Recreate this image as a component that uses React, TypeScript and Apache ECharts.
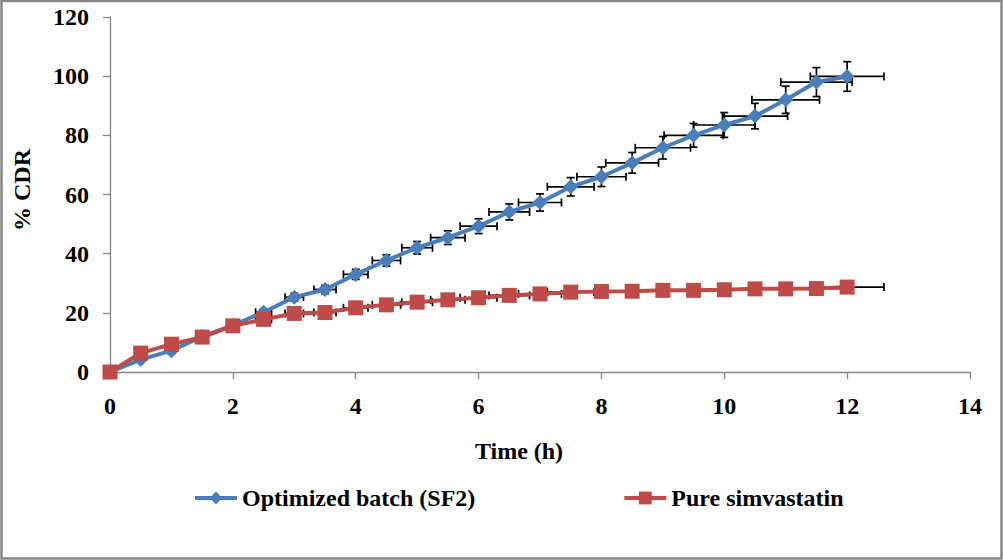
import React, { useEffect, useRef } from "react";
import * as echarts from "echarts";

const timeH = [0, 0.5, 1, 1.5, 2, 2.5, 3, 3.5, 4, 4.5, 5, 5.5, 6, 6.5, 7, 7.5, 8, 8.5, 9, 9.5, 10, 10.5, 11, 11.5, 12];
const sf2 = [0, 4.2, 7.2, 12, 15.8, 20.2, 25.3, 27.9, 33, 37.7, 42, 45.4, 49.3, 54.1, 57.3, 62.6, 66, 70.7, 75.8, 80, 83.5, 86.5, 92, 98, 99.9];
const pure = [0, 6.4, 9.4, 11.8, 15.6, 17.8, 19.8, 20.1, 21.7, 22.7, 23.6, 24.4, 25.1, 25.9, 26.4, 27, 27.2, 27.3, 27.6, 27.6, 27.8, 28.1, 28.1, 28.2, 28.7];
const timeErr = [0, 0.03, 0.05, 0.08, 0.1, 0.13, 0.15, 0.18, 0.2, 0.23, 0.25, 0.28, 0.3, 0.33, 0.35, 0.38, 0.4, 0.43, 0.45, 0.48, 0.5, 0.53, 0.55, 0.58, 0.6];
const sf2Err = [0, 0.2, 0.4, 0.6, 0.8, 1.0, 1.3, 1.4, 1.7, 1.9, 2.1, 2.3, 2.5, 2.7, 2.9, 3.1, 3.3, 3.5, 3.8, 4.0, 4.2, 4.3, 4.6, 4.9, 5.0];
const pureErr = [0, 0.3, 0.5, 0.6, 0.8, 0.9, 1.0, 1.0, 1.1, 1.1, 1.2, 1.2, 1.3, 1.3, 1.3, 1.4, 1.4, 1.4, 1.4, 1.4, 1.4, 1.4, 1.4, 1.4, 1.4];
const seriesNames = ["Optimized batch (SF2)", "Pure simvastatin"];
const xTitle = "Time (h)";
const yTitle = "% CDR";

const FONT = "'Liberation Serif', 'Times New Roman', serif";
const BLUE = "#4A7EBB";
const RED = "#BE4B48";
const AXIS = "#868686";

function errRender(params: any, api: any) {
  const x = api.value(0);
  const y = api.value(1);
  const xe = api.value(2);
  const ye = api.value(3);
  if (!xe && !ye) return null;
  const c = api.coord([x, y]);
  const l = api.coord([x - xe, y]);
  const r = api.coord([x + xe, y]);
  const t = api.coord([x, y + ye]);
  const b = api.coord([x, y - ye]);
  const cap = 4;
  const style = { stroke: "#000", lineWidth: 1.7 };
  return {
    type: "group",
    children: [
      { type: "line", shape: { x1: l[0], y1: c[1], x2: r[0], y2: c[1] }, style },
      { type: "line", shape: { x1: l[0], y1: c[1] - cap, x2: l[0], y2: c[1] + cap }, style },
      { type: "line", shape: { x1: r[0], y1: c[1] - cap, x2: r[0], y2: c[1] + cap }, style },
      { type: "line", shape: { x1: c[0], y1: t[1], x2: c[0], y2: b[1] }, style },
      { type: "line", shape: { x1: c[0] - cap, y1: t[1], x2: c[0] + cap, y2: t[1] }, style },
      { type: "line", shape: { x1: c[0] - cap, y1: b[1], x2: c[0] + cap, y2: b[1] }, style },
    ],
  };
}

export default function App() {
  const ref = useRef<HTMLDivElement>(null);
  useEffect(() => {
    if (!ref.current) return;
    const chart = echarts.init(ref.current, null, { renderer: "svg" });
    const sf2Data = timeH.map((t, i) => [t, sf2[i]]);
    const pureData = timeH.map((t, i) => [t, pure[i]]);
    const sf2ErrData = timeH.map((t, i) => [t, sf2[i], timeErr[i], sf2Err[i]]);
    const pureErrData = timeH.map((t, i) => [t, pure[i], timeErr[i], pureErr[i]]);
    const labelStyle = { color: "#000", fontFamily: FONT, fontWeight: "bold" as const, fontSize: 24 };
    chart.setOption({
      animation: false,
      backgroundColor: "#fff",
      grid: { left: 110, right: 33, top: 17, bottom: 188, containLabel: false },
      xAxis: {
        type: "value",
        min: 0,
        max: 14,
        interval: 2,
        axisLine: { show: true, onZero: false, lineStyle: { color: AXIS, width: 1.3 } },
        axisTick: { show: true, inside: false, length: 7, lineStyle: { color: AXIS, width: 1.3 } },
        axisLabel: { ...labelStyle, margin: 22 },
        splitLine: { show: false },
      },
      yAxis: {
        type: "value",
        min: 0,
        max: 120,
        interval: 20,
        axisLine: { show: true, onZero: false, lineStyle: { color: AXIS, width: 1.3 } },
        axisTick: { show: true, inside: false, length: 7, lineStyle: { color: AXIS, width: 1.3 } },
        axisLabel: { ...labelStyle, margin: 21 },
        splitLine: { show: false },
      },
      legend: {
        left: 188,
        top: 481,
        itemWidth: 42,
        itemHeight: 16,
        itemGap: 147,
        lineStyle: { width: 4 },
        textStyle: { ...labelStyle, fontSize: 24 },
        data: seriesNames,
      },
      graphic: [
        {
          type: "rect",
          shape: { x: 1.5, y: 1, width: 1000, height: 557.5 },
          style: { fill: "none", stroke: AXIS, lineWidth: 2.5 },
          silent: true,
        },
        {
          type: "text",
          x: 519,
          y: 451,
          style: { text: xTitle, ...labelStyle, fill: "#000", textAlign: "center", textVerticalAlign: "middle" },
        },
        {
          type: "text",
          x: 22,
          y: 190,
          rotation: Math.PI / 2,
          style: { text: yTitle, ...labelStyle, fill: "#000", textAlign: "center", textVerticalAlign: "middle" },
        },
      ],
      series: [
        {
          type: "custom",
          name: "errSF2",
          renderItem: errRender,
          data: sf2ErrData,
          encode: { x: 0, y: 1 },
          z: 1,
          silent: true,
        },
        {
          type: "custom",
          name: "errPure",
          renderItem: errRender,
          data: pureErrData,
          encode: { x: 0, y: 1 },
          z: 1,
          silent: true,
        },
        {
          type: "line",
          name: seriesNames[0],
          data: sf2Data,
          symbol: "diamond",
          symbolSize: 15,
          showAllSymbol: true,
          lineStyle: { color: BLUE, width: 4 },
          itemStyle: { color: BLUE },
          z: 3,
        },
        {
          type: "line",
          name: seriesNames[1],
          data: pureData,
          symbol: "rect",
          symbolSize: 15,
          showAllSymbol: true,
          lineStyle: { color: RED, width: 4 },
          itemStyle: { color: RED },
          z: 4,
        },
      ],
    });
    return () => chart.dispose();
  }, []);
  return (
    <div
      ref={ref}
      style={{ position: "absolute", left: 0, top: 0, width: 1003, height: 560, background: "#fff" }}
    />
  );
}
